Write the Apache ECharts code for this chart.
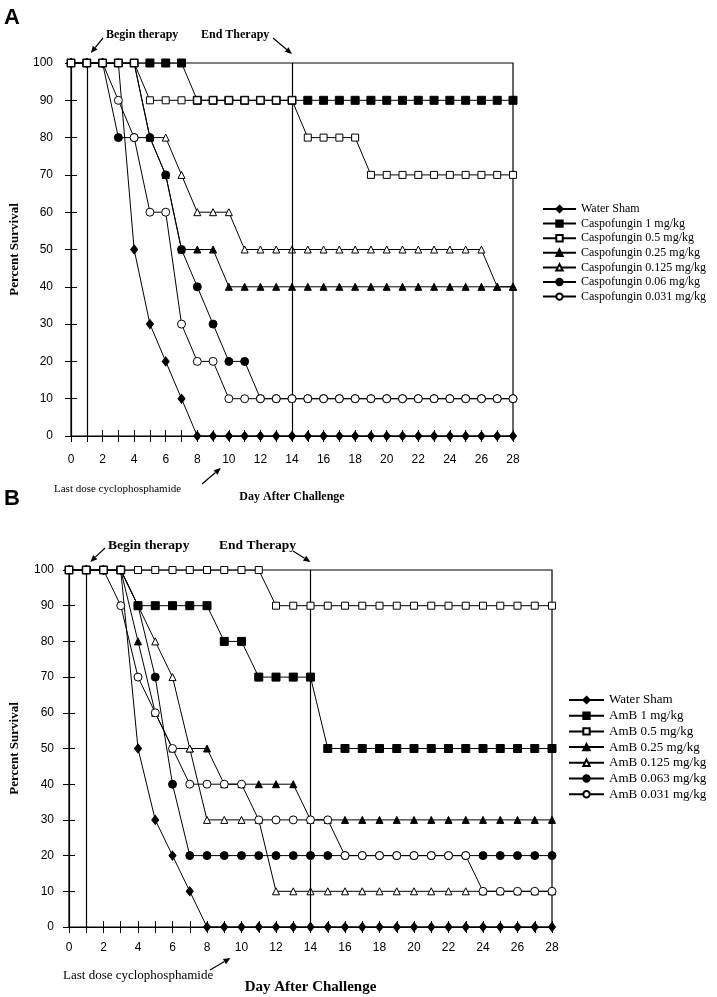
<!DOCTYPE html>
<html><head><meta charset="utf-8">
<script src="https://cdn.jsdelivr.net/npm/echarts@6/dist/echarts.min.js"></script>
<style>html,body{margin:0;padding:0;background:#fff}#c{width:717px;height:997px}</style>
</head><body><div id="c"></div>
<script>
// ---------- data ----------
const days = [0,1,2,3,4,5,6,7,8,9,10,11,12,13,14,15,16,17,18,19,20,21,22,23,24,25,26,27,28];
const xTickLabels = [0,2,4,6,8,10,12,14,16,18,20,22,24,26,28];
const yTickLabels = [0,10,20,30,40,50,60,70,80,90,100];
const therapyDays = [1,14];
const lastDoseDay = 10;

// Panel A
const namesA = ['Water Sham','Caspofungin 1 mg/kg','Caspofungin 0.5 mg/kg','Caspofungin 0.25 mg/kg','Caspofungin 0.125 mg/kg','Caspofungin 0.06 mg/kg','Caspofungin 0.031 mg/kg'];
const waterShamA = [100,100,100,100,50,30,20,10,0,0,0,0,0,0,0,0,0,0,0,0,0,0,0,0,0,0,0,0,0];
const caspo1     = [100,100,100,100,100,100,100,100,90,90,90,90,90,90,90,90,90,90,90,90,90,90,90,90,90,90,90,90,90];
const caspo05    = [100,100,100,100,100,90,90,90,90,90,90,90,90,90,90,80,80,80,80,70,70,70,70,70,70,70,70,70,70];
const caspo025   = [100,100,100,100,100,80,70,50,50,50,40,40,40,40,40,40,40,40,40,40,40,40,40,40,40,40,40,40,40];
const caspo0125  = [100,100,100,100,100,80,80,70,60,60,60,50,50,50,50,50,50,50,50,50,50,50,50,50,50,50,50,40,40];
const caspo006   = [100,100,100,80,80,80,70,50,40,30,20,20,10,10,10,10,10,10,10,10,10,10,10,10,10,10,10,10,10];
const caspo0031  = [100,100,100,90,80,60,60,30,20,20,10,10,10,10,10,10,10,10,10,10,10,10,10,10,10,10,10,10,10];

// Panel B
const namesB = ['Water Sham','AmB 1 mg/kg','AmB 0.5 mg/kg','AmB 0.25 mg/kg','AmB 0.125 mg/kg','AmB 0.063 mg/kg','AmB 0.031 mg/kg'];
const waterShamB = [100,100,100,100,50,30,20,10,0,0,0,0,0,0,0,0,0,0,0,0,0,0,0,0,0,0,0,0,0];
const amb1    = [100,100,100,100,90,90,90,90,90,80,80,70,70,70,70,50,50,50,50,50,50,50,50,50,50,50,50,50,50];
const amb05   = [100,100,100,100,100,100,100,100,100,100,100,100,90,90,90,90,90,90,90,90,90,90,90,90,90,90,90,90,90];
const amb025  = [100,100,100,100,80,60,50,50,50,40,40,40,40,40,30,30,30,30,30,30,30,30,30,30,30,30,30,30,30];
const amb0125 = [100,100,100,100,90,80,70,50,30,30,30,30,10,10,10,10,10,10,10,10,10,10,10,10,10,10,10,10,10];
const amb0063 = [100,100,100,100,90,70,40,20,20,20,20,20,20,20,20,20,20,20,20,20,20,20,20,20,20,20,20,20,20];
const amb0031 = [100,100,100,90,70,60,50,40,40,40,40,30,30,30,30,30,20,20,20,20,20,20,20,20,10,10,10,10,10];

// ---------- styling ----------
const SERIF = '"Liberation Serif","DejaVu Serif",serif';
const SANS = '"Liberation Sans",Arial,sans-serif';
const markers = [
  {symbol:'diamond', size:[7,9], filled:true},
  {symbol:'rect', size:8, filled:true},
  {symbol:'rect', size:7, filled:false},
  {symbol:'triangle', size:7, filled:true},
  {symbol:'triangle', size:7, filled:false},
  {symbol:'circle', size:8, filled:true},
  {symbol:'circle', size:8, filled:false}
];
const zOrderA = [2,7,8,4,3,5,6];
const zOrderB = [2,7,8,3,4,5,6];

function mkSeries(name, vals, mk, gi, z, withMarks){
  const s = {
    type:'line', name, xAxisIndex: gi*2, yAxisIndex: gi*2, z,
    data: days.map((d,i)=>[d, vals[i]]),
    symbol: mk.symbol, symbolSize: mk.size, showAllSymbol:true,
    itemStyle:{color: mk.filled?'#000':'#fff', borderColor:'#000', borderWidth:1},
    lineStyle:{color:'#000', width:1},
    emphasis:{disabled:true}, animation:false
  };
  if (withMarks){
    s.markLine = {symbol:'none', silent:true, label:{show:false}, animation:false,
      lineStyle:{color:'#000', width:1.2, type:'solid'},
      data: therapyDays.map(d=>({xAxis:d}))};
  }
  return s;
}

function axes(gi, cfg){
  const xs = [
    {gridIndex:gi, type:'value', min:0, max:28, interval:1, position:'bottom',
     axisLine:{lineStyle:{color:'#000', width:1.2}},
     axisTick:{length:6, lineStyle:{color:'#000'}},
     axisLabel:{margin:cfg.xLabMargin, color:'#000', fontFamily:SANS, fontSize:12,
       formatter:v=> xTickLabels.includes(v)? String(v):''},
     splitLine:{show:false},
     name:'Day After Challenge', nameLocation:'middle', nameGap:cfg.xNameGap,
     nameTextStyle:{fontFamily:SERIF, fontWeight:'bold', fontSize:cfg.xNameSize, color:'#000'}},
    {gridIndex:gi, type:'value', min:0, max:28, interval:1, position:'bottom',
     axisLine:{show:false}, axisTick:{inside:true, length:6, lineStyle:{color:'#000'}},
     axisLabel:{show:false}, splitLine:{show:false}}
  ];
  const ys = [
    {gridIndex:gi, type:'value', min:0, max:100, interval:10, position:'left',
     axisLine:{show:true, lineStyle:{color:'#000', width:1.2}},
     axisTick:{show:true, length:6, lineStyle:{color:'#000'}},
     axisLabel:{margin:cfg.yLabMargin, color:'#000', fontFamily:SANS, fontSize:12,
       formatter:v=> yTickLabels.includes(v)? String(v):''},
     splitLine:{show:false},
     name:'Percent Survival', nameLocation:'middle', nameRotate:90, nameGap:cfg.yNameGap,
     nameTextStyle:{fontFamily:SERIF, fontWeight:'bold', fontSize:13, color:'#000'}},
    {gridIndex:gi, type:'value', min:0, max:100, interval:10, position:'left',
     axisLine:{show:false}, axisTick:{show:true, inside:true, length:6, lineStyle:{color:'#000'}},
     axisLabel:{show:false}, splitLine:{show:false}}
  ];
  return {xs, ys};
}

const aA = axes(0, {xLabMargin:18, xNameGap:55, xNameSize:12, yLabMargin:18, yNameGap:50});
const aB = axes(1, {xLabMargin:15, xNameGap:53, xNameSize:15, yLabMargin:15, yNameGap:48});

const valsA = [waterShamA, caspo1, caspo05, caspo025, caspo0125, caspo006, caspo0031];
const valsB = [waterShamB, amb1, amb05, amb025, amb0125, amb0063, amb0031];
const series = [];
valsA.forEach((v,i)=>series.push(mkSeries(namesA[i], v, markers[i], 0, zOrderA[i], i===0)));
valsB.forEach((v,i)=>series.push(mkSeries(namesB[i], v, markers[i], 1, zOrderB[i], i===0)));

const chart = echarts.init(document.getElementById('c'), null, {renderer:'canvas'});
chart.setOption({
  animation:false,
  backgroundColor:'#fff',
  grid:[
    {left:66, right:204, top:63, bottom:561, show:true, borderColor:'#000', borderWidth:1.2, backgroundColor:'transparent'},
    {left:63, right:165, top:570, bottom:70, show:true, borderColor:'#000', borderWidth:1.2, backgroundColor:'transparent'}
  ],
  xAxis: aA.xs.concat(aB.xs),
  yAxis: aA.ys.concat(aB.ys),
  legend:[
    {data:namesA, orient:'vertical', left:542, top:202, padding:0, itemWidth:33, itemHeight:8, itemGap:0.6,
     selectedMode:false, textStyle:{fontFamily:SERIF, fontSize:12, color:'#000', lineHeight:14}},
    {data:namesB, orient:'vertical', left:568, top:693, padding:0, itemWidth:35, itemHeight:8, itemGap:1.7,
     selectedMode:false, textStyle:{fontFamily:SERIF, fontSize:13, color:'#000', lineHeight:14}}
  ],
  series
});

// ---------- annotations ----------
function arrow(x1,y1,x2,y2){
  const ang = Math.atan2(y2-y1, x2-x1), L=7, W=3;
  const bx = x2-L*Math.cos(ang), by = y2-L*Math.sin(ang);
  const px = -Math.sin(ang)*W, py = Math.cos(ang)*W;
  return [
    {type:'line', shape:{x1, y1, x2:bx, y2:by}, style:{stroke:'#000', lineWidth:1.2}},
    {type:'polygon', shape:{points:[[x2,y2],[bx+px,by+py],[bx-px,by-py]]}, style:{fill:'#000'}}
  ];
}
function txt(text, x, y, font){
  return {type:'text', x, y, style:{text, font, fill:'#000', verticalAlign:'middle', align:'left'}};
}
const pA1 = chart.convertToPixel({gridIndex:0}, [therapyDays[0], 100]);
const pA14 = chart.convertToPixel({gridIndex:0}, [therapyDays[1], 100]);
const pA10 = chart.convertToPixel({gridIndex:0}, [lastDoseDay, 0]);
const pB1 = chart.convertToPixel({gridIndex:1}, [therapyDays[0], 100]);
const pB14 = chart.convertToPixel({gridIndex:1}, [therapyDays[1], 100]);
const pB10 = chart.convertToPixel({gridIndex:1}, [lastDoseDay, 0]);

const g = [];
g.push(txt('A', 4, 18, 'bold 22px '+SANS));
g.push(txt('B', 4, 499, 'bold 22px '+SANS));
g.push(txt('Begin therapy', 106, 35, 'bold 12px '+SERIF));
g.push(txt('End Therapy', 201, 35, 'bold 12px '+SERIF));
g.push(...arrow(103, 38, pA1[0]+4, pA1[1]-10));
g.push(...arrow(273, 38, pA14[0], pA14[1]-9));
g.push(txt('Last dose cyclophosphamide', 54, 489, '11px '+SERIF));
g.push(...arrow(202, 484, pA10[0]-8, pA10[1]+32));
g.push(txt('Begin therapy', 108, 546, 'bold 13.5px '+SERIF));
g.push(txt('End Therapy', 219, 546, 'bold 13.5px '+SERIF));
g.push(...arrow(105, 548, pB1[0]+4, pB1[1]-8));
g.push(...arrow(293, 551, pB14[0], pB14[1]-8));
g.push(txt('Last dose cyclophosphamide', 63, 976, '13px '+SERIF));
g.push(...arrow(210, 970, pB10[0]-11, pB10[1]+31));
chart.setOption({graphic: g});
</script></body></html>
